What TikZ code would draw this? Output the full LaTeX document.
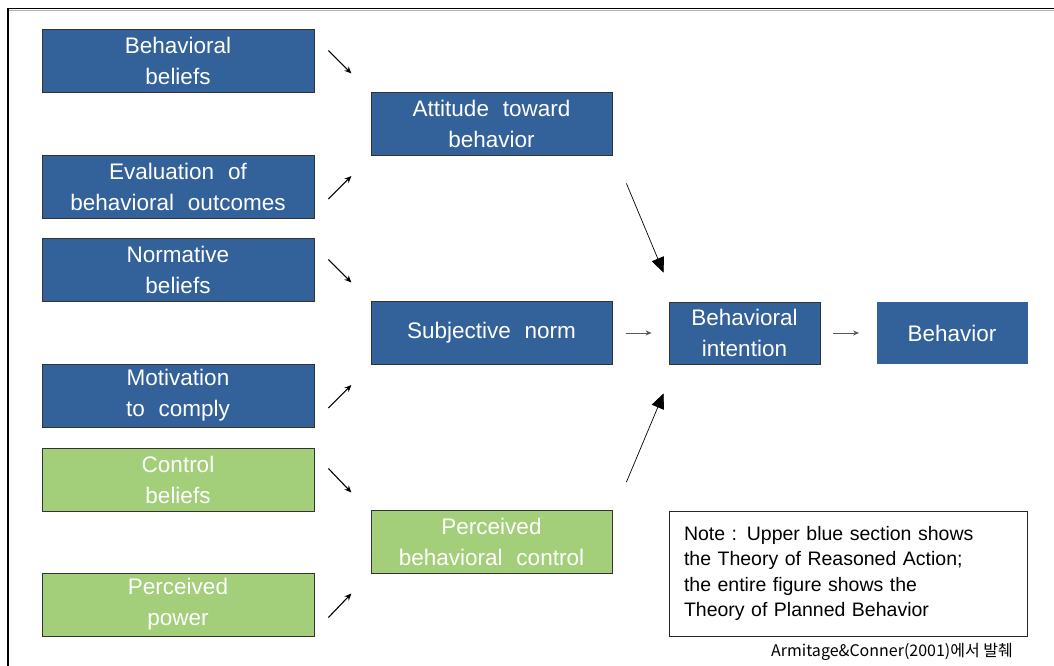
\documentclass[tikz,border=0pt]{standalone}
\usepackage{fontspec}
\setmainfont[WordSpace=2.2]{Liberation Sans}
\newfontfamily\notefont[WordSpace=2]{Liberation Sans}
\newfontfamily\krfont{Noto Sans CJK KR}
\usetikzlibrary{arrows.meta,calc,positioning}
\definecolor{tpbblue}{RGB}{51,97,153}
\definecolor{tpbgreen}{RGB}{163,207,122}
\tikzset{
    factor/.style={draw=black!80, line width=0.8pt, text=white, align=center,
        inner sep=0pt, minimum width=272pt, minimum height=63pt,
        font=\fontsize{22.5}{31}\selectfont},
    construct/.style={factor, minimum width=241pt},
    outcome/.style={factor, minimum width=151pt, minimum height=62pt},
    smallarrow/.style={line width=1.1pt, -{Stealth[length=7pt,width=6pt]}},
    bigarrow/.style={line width=0.7pt, -{Triangle[length=15pt,width=13pt]}},
    flatarrow/.style={line width=1pt, black!65, -{Stealth[length=6pt,width=5pt]}}
}

\begin{document}
\begin{tikzpicture}[x=1pt,y=-1pt]
    \useasboundingbox (0,0) rectangle (1054,666);

    % Draw frame.
    \draw[line width=1.6pt] (8,666) -- (8,8.5) -- (1054,8.5);
    \draw[gray!60, line width=0.6pt] (9,10.2) -- (1054,10.2);

    % Draw belief boxes.
    \node[factor, fill=tpbblue] (behbel) at (178,60.5) {Behavioral\\beliefs};
    \node[factor, fill=tpbblue] (evalout) at (178,186.5) {Evaluation of\\behavioral outcomes};
    \node[factor, fill=tpbblue] (normbel) at (178,269.5) {Normative\\beliefs};
    \node[factor, fill=tpbblue] (motcomp) at (178,395.5) {Motivation\\to comply};
    \node[factor, fill=tpbgreen] (ctrlbel) at (178,479.5) {Control\\beliefs};
    \node[factor, fill=tpbgreen] (percpow) at (178,604.5) {Perceived\\power};

    % Draw constructs.
    \node[construct, fill=tpbblue] (attitude) at (491.5,123.5) {Attitude toward\\behavior};
    \node[construct, fill=tpbblue] (subjnorm) at (491.5,333) {Subjective norm};
    \node[construct, fill=tpbgreen] (pbc) at (491.5,542) {Perceived\\behavioral control};
    \node[outcome, fill=tpbblue] (intention) at (744.5,333) {Behavioral\\intention};
    \node[outcome, fill=tpbblue, draw=none] (behavior) at (952,333) {Behavior};

    % Draw note.
    \node[draw=black!85, line width=0.8pt, minimum width=358pt, minimum height=125pt,
        text width=328pt, align=left, inner sep=0pt,
        font=\notefont\fontsize{19.5}{25.5}\selectfont] (note) at (848,573.5)
        {Note : Upper blue section shows\\the Theory of Reasoned Action;\\
         the entire figure shows the\\Theory of Planned Behavior};
    \node[anchor=base east, inner sep=0pt, font=\krfont\fontsize{16}{18}\selectfont]
        (credit) at (1013,656) {Armitage\&Conner(2001)에서 발췌};

    % Draw small arrows.
    \foreach \n/\y/\d in {behbel/-10/23, evalout/12.5/-23, normbel/-10/23,
                          motcomp/12.5/-23, ctrlbel/-11/24, percpow/13/-24}
        \draw[smallarrow] ($(\n.east)+(14,\y)$) -- ++(23,\d);

    % Draw arrows into intention.
    \draw[bigarrow] ($(attitude.south east)+(14,28)$) -- ($(intention.north west)+(-5,-29)$);
    \draw[bigarrow] ($(pbc.north east)+(14,-28)$) -- ($(intention.south west)+(-5,29)$);
    \draw[flatarrow] ($(subjnorm.east)+(14,0)$) -- ($(intention.west)+(-17,0)$);
    \draw[flatarrow] ($(intention.east)+(13,0)$) -- ($(behavior.west)+(-17,0)$);
\end{tikzpicture}
\end{document}
